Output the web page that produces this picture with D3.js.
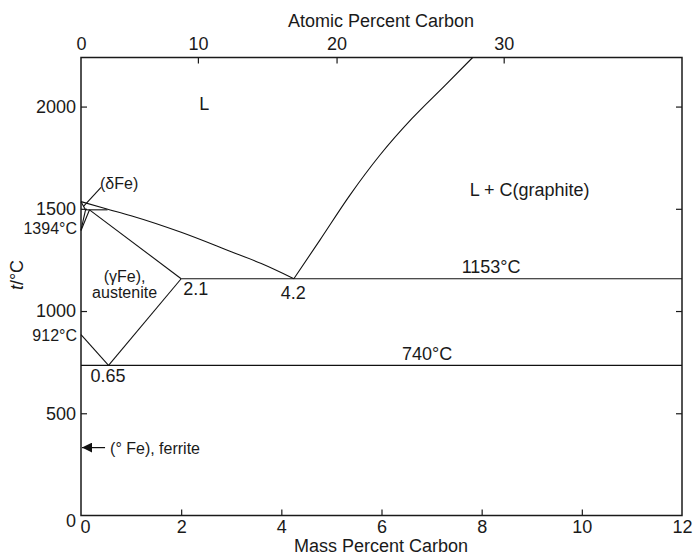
<!DOCTYPE html>
<html><head><meta charset="utf-8">
<script src="https://cdn.jsdelivr.net/npm/d3@7"></script>
<style>
body{margin:0;background:#fff;}
text{font-family:"Liberation Sans",Arial,Helvetica,sans-serif;fill:#1a1a1a;}
</style></head>
<body><svg id="c" width="693" height="556"></svg>
<script>
// ---- data ----
const massTicks = [0,2,4,6,8,10,12];
const atomicTicks = [0,10,20,30];
const tempTicks = [0,500,1000,1500,2000];
const liquidusFe = [[0,1535],[0.5,1500],[1.0,1466],[2.0,1385],[3.0,1290],[3.6,1232],[4.25,1158]];
const liquidusC = [[4.25,1158],[4.77,1347],[5.37,1567],[5.97,1763],[6.61,1942],[7.27,2104],[7.82,2240]];
const deltaSolidus = [[0,1535],[0.09,1495]];
const peritectic = [[0.09,1495],[0.53,1495]];
const deltaSolvus = [[0,1394],[0.09,1495]];
const gammaDelta = [[0,1394],[0.17,1495]];
const solidusGamma = [[0.17,1495],[2.0,1158]];
const a3Line = [[0,885],[0.55,734]];
const acmLine = [[0.55,734],[2.0,1158]];
const eutecticLine = [[2.0,1158],[12,1158]];
const eutectoidLine = [[0,734],[12,734]];
const deltaLeader = [[0.40,1605],[0.05,1512]];
const ferriteArrow = [[0.48,332],[0.02,332]];
const labels = [
  {t:"L", w:2.36, T:1985, size:18, anchor:"start"},
  {t:"L + C(graphite)", w:7.76, T:1565, size:18, anchor:"start"},
  {t:"(δFe)", w:0.38, T:1598, size:16, anchor:"start"},
  {t:"(γFe),", w:0.87, T:1140, size:16, anchor:"middle"},
  {t:"austenite", w:0.87, T:1064, size:16, anchor:"middle"},
  {t:"2.1", w:2.04, T:1078, size:18, anchor:"start"},
  {t:"4.2", w:3.99, T:1061, size:18, anchor:"start"},
  {t:"0.65", w:0.19, T:652, size:18, anchor:"start"},
  {t:"1153°C", w:7.60, T:1184, size:18, anchor:"start"},
  {t:"740°C", w:6.41, T:761, size:18, anchor:"start"},
  {t:"(° Fe), ferrite", w:0.58, T:301, size:16, anchor:"start"}
];
const sideLabels = [
  {t:"1394°C", T:1375},
  {t:"912°C", T:855}
];

// ---- scales ----
const svg = d3.select("#c");
const x = d3.scaleLinear().domain([0,12]).range([81,682]);
const y = d3.scaleLinear().domain([0,2240]).range([515.5,57.5]);
const atToMass = a => a*12.011/(a*12.011+(100-a)*55.845)*100;

// frame
svg.append("rect").attr("x",x(0)).attr("y",y(2240)).attr("width",x(12)-x(0)).attr("height",y(0)-y(2240))
  .attr("fill","none").attr("stroke","#1a1a1a").attr("stroke-width",1.5);

function styleAxis(g){
  g.select(".domain").remove();
  g.selectAll(".tick line").attr("stroke","#1a1a1a").attr("stroke-width",1.2);
  g.selectAll(".tick text").style("font-size","18px").attr("fill","#1a1a1a")
   .style("font-family","'Liberation Sans',Arial,sans-serif");
}
// bottom
const gb = svg.append("g").attr("transform",`translate(0,${y(0)})`)
  .call(d3.axisBottom(x).tickValues(massTicks).tickSizeInner(-6).tickSizeOuter(0).tickPadding(5).tickFormat(d3.format("d")));
styleAxis(gb);
gb.selectAll(".tick text").attr("dx",(d)=>d===0?4:0);
gb.selectAll(".tick line").filter(d=>d===0||d===12).remove();
// top
const gt = svg.append("g").attr("transform",`translate(0,${y(2240)})`)
  .call(d3.axisTop(x).tickValues(atomicTicks.map(atToMass)).tickSizeInner(-6).tickSizeOuter(0).tickPadding(8)
  .tickFormat((d,i)=>atomicTicks[i]));
styleAxis(gt);
gt.selectAll(".tick line").filter((d,i)=>i===0).remove();
// left
const gl = svg.append("g").attr("transform",`translate(${x(0)},0)`)
  .call(d3.axisLeft(y).tickValues(tempTicks).tickSizeInner(-6).tickSizeOuter(0).tickPadding(5).tickFormat(d3.format("d")));
styleAxis(gl);
gl.selectAll(".tick text").attr("dy",(d)=>d===0?"0.62em":"0.32em");
gl.selectAll(".tick line").filter(d=>d===0).remove();
// right
const gr = svg.append("g").attr("transform",`translate(${x(12)},0)`)
  .call(d3.axisRight(y).tickValues(tempTicks.filter(d=>d>0)).tickSizeInner(-6).tickSizeOuter(0).tickFormat(""));
styleAxis(gr);

// titles
svg.append("text").attr("x",381).attr("y",27).attr("text-anchor","middle").style("font-size","18px").text("Atomic Percent Carbon");
svg.append("text").attr("x",381).attr("y",552).attr("text-anchor","middle").style("font-size","18px").text("Mass Percent Carbon");
const yt = svg.append("text").attr("transform","translate(23,275) rotate(-90)").attr("text-anchor","middle").style("font-size","18px");
yt.append("tspan").style("font-style","italic").text("t");
yt.append("tspan").text("/°C");

// lines
const line = d3.line().x(d=>x(d[0])).y(d=>y(d[1]));
const curve = d3.line().x(d=>x(d[0])).y(d=>y(d[1])).curve(d3.curveMonotoneX);
const plot = svg.append("g").attr("fill","none").attr("stroke","#111").attr("stroke-width",1.1);
plot.append("path").attr("d",curve(liquidusFe));
plot.append("path").attr("d",curve(liquidusC));
[deltaSolidus,peritectic,deltaSolvus,gammaDelta,solidusGamma,a3Line,acmLine,eutecticLine,eutectoidLine,deltaLeader]
  .forEach(s=>plot.append("path").attr("d",line(s)));

// arrow
svg.append("defs").append("marker").attr("id","ah").attr("viewBox","0 0 10 10").attr("refX",10).attr("refY",5)
  .attr("markerWidth",13).attr("markerHeight",10).attr("markerUnits","userSpaceOnUse").attr("orient","auto")
  .append("path").attr("d","M0,0L10,5L0,10Z").attr("fill","#111");
svg.append("path").attr("d",line(ferriteArrow)).attr("stroke","#111").attr("stroke-width",1.2).attr("marker-end","url(#ah)");

// labels
labels.forEach(l=>svg.append("text").attr("x",x(l.w)).attr("y",y(l.T)).attr("text-anchor",l.anchor)
  .style("font-size",l.size+"px").text(l.t));
sideLabels.forEach(l=>svg.append("text").attr("x",77).attr("y",y(l.T)).attr("text-anchor","end")
  .style("font-size","16px").text(l.t));
</script></body></html>
